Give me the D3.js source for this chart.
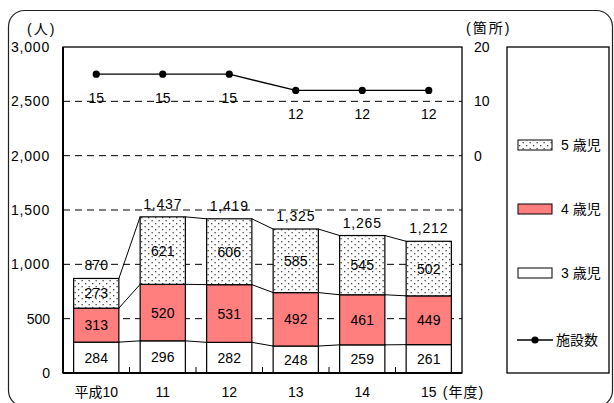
<!DOCTYPE html>
<html><head><meta charset="utf-8">
<script src="https://cdn.jsdelivr.net/npm/d3@7"></script>
<style>
html,body{margin:0;padding:0;background:#fff;}
text{font-family:"Liberation Sans","Noto Sans CJK JP",sans-serif;font-size:14px;fill:#000;}
</style></head>
<body><svg id="c" width="614" height="403"></svg>
<script>
const categories = ["平成10","11","12","13","14","15"];
const age3 = [284,296,282,248,259,261];
const age4 = [313,520,531,492,461,449];
const age5 = [273,621,606,585,545,502];
const totals = [870,1437,1419,1325,1265,1212];
const facilities = [15,15,15,12,12,12];
const leftTicks = [0,500,1000,1500,2000,2500,3000];
const rightTicks = [0,10,20];
const seriesNames = ["3 歳児","4 歳児","5 歳児"];
const lineName = "施設数";

const svg = d3.select("#c");
const defs = svg.append("defs");
const pat = defs.append("pattern").attr("id","dots").attr("patternUnits","userSpaceOnUse")
  .attr("width",7).attr("height",6);
pat.append("rect").attr("width",7).attr("height",6).attr("fill","#fff");
pat.append("rect").attr("x",1).attr("y",1).attr("width",1.3).attr("height",1.3).attr("fill","#444");
pat.append("rect").attr("x",4.5).attr("y",4).attr("width",1.3).attr("height",1.3).attr("fill","#444");

// outer frame
svg.append("rect").attr("x",8.5).attr("y",10.5).attr("width",604).attr("height",396)
  .attr("rx",16).attr("fill","none").attr("stroke","#222").attr("stroke-width",1.2);

const L=63,R=462,T=47,B=373;
const x = d3.scaleBand().domain(categories).range([L,R]).paddingInner(0.32).paddingOuter(0.16);
const y = d3.scaleLinear().domain([0,3000]).range([B,T]);
const y2 = d3.scaleLinear().domain([-40,20]).range([B,T]);

// gridlines
svg.append("g").selectAll("line").data(leftTicks.filter(d=>d>0&&d<3000)).join("line")
  .attr("x1",L).attr("x2",R).attr("y1",d=>y(d)).attr("y2",d=>y(d))
  .attr("stroke","#000").attr("stroke-width",1).attr("stroke-dasharray","7,5");

// stacked data
const rows = categories.map((c,i)=>({cat:c,a3:age3[i],a4:age4[i],a5:age5[i]}));
const stack = d3.stack().keys(["a3","a4","a5"])(rows);
const fills = ["#fff","#FF7F7F","url(#dots)"];

// connector lines
stack.forEach((s)=>{
  for(let i=0;i<s.length-1;i++){
    svg.append("line")
      .attr("x1",x(categories[i])+x.bandwidth()).attr("y1",y(s[i][1]))
      .attr("x2",x(categories[i+1])).attr("y2",y(s[i+1][1]))
      .attr("stroke","#000").attr("stroke-width",1);
  }
});

stack.forEach((s,k)=>{
  svg.append("g").selectAll("rect").data(s).join("rect")
    .attr("x",(d,i)=>x(categories[i])).attr("width",x.bandwidth())
    .attr("y",d=>y(d[1])).attr("height",d=>y(d[0])-y(d[1]))
    .attr("fill",fills[k]).attr("stroke","#000").attr("stroke-width",1.2);
  svg.append("g").selectAll("text").data(s).join("text")
    .attr("x",(d,i)=>x(categories[i])+x.bandwidth()/2)
    .attr("y",d=>(y(d[0])+y(d[1]))/2+5)
    .attr("text-anchor","middle").text(d=>d[1]-d[0]);
});

const fmt = d3.format(",");
svg.append("g").selectAll("text").data(totals).join("text")
  .attr("x",(d,i)=>x(categories[i])+x.bandwidth()/2)
  .attr("y",d=>y(d)-8).attr("text-anchor","middle")
  .attr("letter-spacing",d=>d>=1000?"0.8px":null).text(d=>fmt(d));

// plot frame
svg.append("rect").attr("x",L).attr("y",T).attr("width",R-L).attr("height",B-T)
  .attr("fill","none").attr("stroke","#000").attr("stroke-width",1.3);
svg.append("line").attr("x1",L).attr("x2",R).attr("y1",B).attr("y2",B).attr("stroke","#000").attr("stroke-width",2);
svg.append("line").attr("x1",L).attr("x2",L).attr("y1",T).attr("y2",B).attr("stroke","#000").attr("stroke-width",2);

// x ticks at band boundaries (inward)
const step = x.step();
svg.append("g").selectAll("line").data(categories.slice(1)).join("line")
  .attr("x1",d=>x(d)-step*x.paddingInner()/2).attr("x2",d=>x(d)-step*x.paddingInner()/2)
  .attr("y1",B).attr("y2",B-6).attr("stroke","#000").attr("stroke-width",1);

// left axis labels
svg.append("g").selectAll("text").data(leftTicks).join("text")
  .attr("x",50).attr("y",d=>y(d)+5).attr("text-anchor","end")
  .attr("letter-spacing",d=>d>=1000?"0.8px":null).text(d=>fmt(d));
// right axis labels
svg.append("g").selectAll("text").data(rightTicks).join("text")
  .attr("x",474).attr("y",d=>y2(d)+5).attr("text-anchor","start").text(d=>d);

// x labels
svg.append("g").selectAll("text").data(categories).join("text")
  .attr("x",d=>x(d)+x.bandwidth()/2).attr("y",397).attr("text-anchor","middle").text(d=>d);
svg.append("text").attr("x",x("15")+x.bandwidth()/2+14).attr("y",397).attr("letter-spacing","1px").text("(年度)");

svg.append("text").attr("x",27).attr("y",34).attr("letter-spacing","2px").text("(人)");
svg.append("text").attr("x",466).attr("y",33).attr("letter-spacing","2px").text("(箇所)");

// facilities line
const line = d3.line().x((d,i)=>x(categories[i])+x.bandwidth()/2).y(d=>y2(d));
svg.append("path").datum(facilities).attr("d",line).attr("fill","none").attr("stroke","#000").attr("stroke-width",1.3);
svg.append("g").selectAll("circle").data(facilities).join("circle")
  .attr("cx",(d,i)=>x(categories[i])+x.bandwidth()/2).attr("cy",d=>y2(d)).attr("r",3.6).attr("fill","#000");
svg.append("g").selectAll("text").data(facilities).join("text")
  .attr("x",(d,i)=>x(categories[i])+x.bandwidth()/2).attr("y",d=>y2(d)+29)
  .attr("text-anchor","middle").text(d=>d);

// legend
svg.append("rect").attr("x",507).attr("y",T).attr("width",102).attr("height",B-T)
  .attr("fill","#fff").attr("stroke","#000").attr("stroke-width",1.3);
const legItems = [{n:seriesNames[2],f:fills[2],y:145},{n:seriesNames[1],f:fills[1],y:209},{n:seriesNames[0],f:fills[0],y:273}];
legItems.forEach(it=>{
  svg.append("rect").attr("x",518).attr("y",it.y-5).attr("width",34).attr("height",10)
    .attr("fill",it.f).attr("stroke","#000").attr("stroke-width",1);
  svg.append("text").attr("x",561).attr("y",it.y+5).text(it.n);
});
svg.append("line").attr("x1",517).attr("x2",553).attr("y1",340).attr("y2",340).attr("stroke","#000").attr("stroke-width",1.3);
svg.append("circle").attr("cx",535).attr("cy",340).attr("r",3.6).attr("fill","#000");
svg.append("text").attr("x",556).attr("y",345).text(lineName);
</script></body></html>
